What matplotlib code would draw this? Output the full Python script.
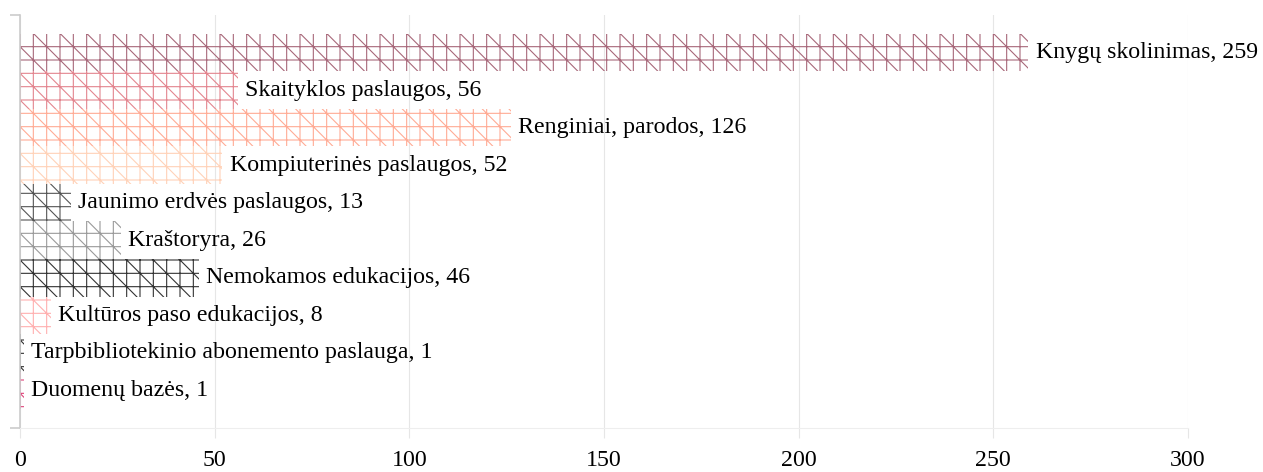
import matplotlib
matplotlib.use("Agg")
import matplotlib.pyplot as plt

categories = [
    "Knygų skolinimas",
    "Skaityklos paslaugos",
    "Renginiai, parodos",
    "Kompiuterinės paslaugos",
    "Jaunimo erdvės paslaugos",
    "Kraštoryra",
    "Nemokamos edukacijos",
    "Kultūros paso edukacijos",
    "Tarpbibliotekinio abonemento paslauga",
    "Duomenų bazės",
]
values = [259, 56, 126, 52, 13, 26, 46, 8, 1, 1]
colors = ["#a8687a", "#e3858f", "#ffab95", "#ffd2b8", "#555555",
          "#9a9a9a", "#333333", "#ffb0b0", "#333333", "#e0457b"]
xticks = [0, 50, 100, 150, 200, 250, 300]

DPI = 80
plt.rcParams["font.family"] = ["Liberation Serif", "DejaVu Serif"]
plt.rcParams["hatch.linewidth"] = 1.0

fig = plt.figure(figsize=(1263 / DPI, 472 / DPI), dpi=DPI)
ax = fig.add_axes([20 / 1263, 1 - 428 / 472, (1188 - 20) / 1263, (428 - 15) / 472])

ypos = list(range(len(categories)))
for y, v, c in zip(ypos, values, colors):
    ax.barh(y, v, height=1.0, facecolor="none", edgecolor=c,
            linewidth=0, hatch="+\\")
    ax.annotate(f"{categories[y]}, {v}", xy=(v, y), xytext=(6.5, 0),
                textcoords="offset points", va="center", ha="left",
                fontsize=21.5, color="black")

ax.set_xlim(0, 300)
ax.set_ylim(len(categories), -1)
ax.set_xticks(xticks)
ax.set_xticklabels([str(t) for t in xticks])
ax.set_yticks([-1, len(categories)])
ax.set_yticklabels(["", ""])

ax.grid(axis="x", color="#e6e6e6", linewidth=1.0)
ax.set_axisbelow(True)
for s in ["top", "right"]:
    ax.spines[s].set_visible(False)
ax.spines["left"].set_color("#cccccc")
ax.spines["left"].set_linewidth(1.5)
ax.spines["bottom"].set_color("#eeeeee")
ax.spines["bottom"].set_linewidth(1.0)
ax.tick_params(axis="x", length=9, color="#e6e6e6", width=1.0, pad=11,
               labelsize=21.5, labelcolor="black")
ax.tick_params(axis="y", length=9, color="#cccccc", width=1.5)

fig.savefig("out.png", dpi=DPI)
